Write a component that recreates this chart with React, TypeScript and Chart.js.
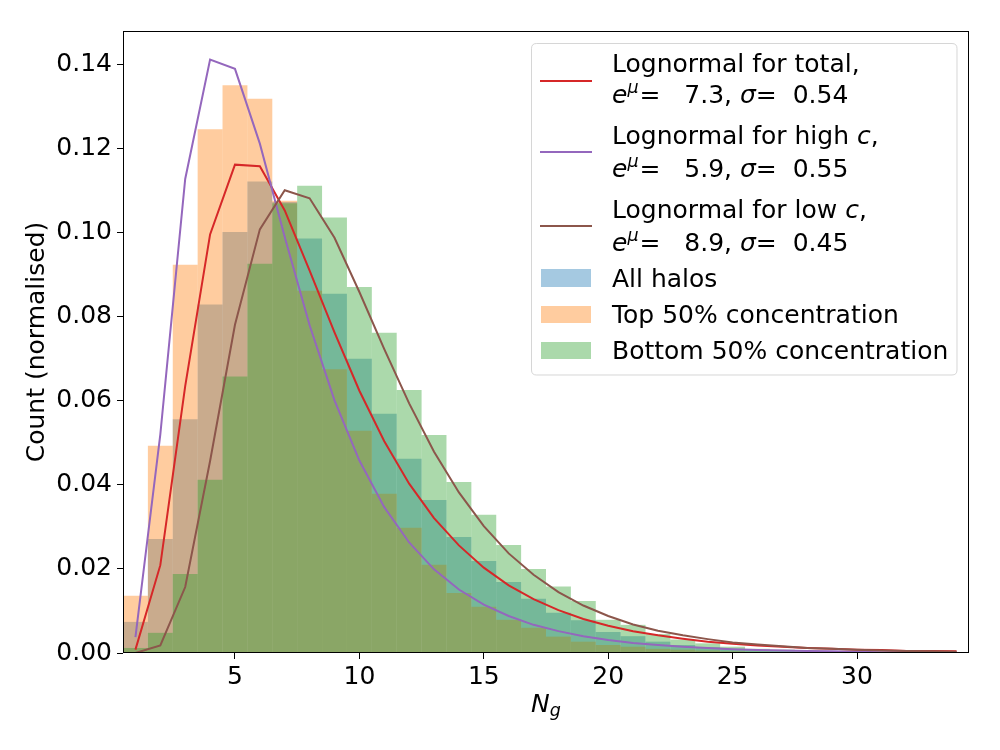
import { useEffect, useRef } from "react";
import { Chart, registerables } from "chart.js";

Chart.register(...registerables);

const FONT = "'DejaVu Sans', sans-serif";
const SIZE = 25;
const SMALL = 17.5;

// bin centres (width 1)
const bins = [
  1, 2, 3, 4, 5, 6, 7, 8, 9, 10, 11, 12, 13, 14, 15, 16, 17, 18, 19, 20, 21,
  22, 23, 24, 25, 26, 27, 28, 29, 30, 31, 32, 33, 34,
];

const allHalos = [
  0.0074, 0.0271, 0.0556, 0.0829, 0.1002, 0.1122, 0.1073, 0.0986, 0.0855,
  0.07, 0.0569, 0.0462, 0.0364, 0.0276, 0.0219, 0.0169, 0.0129, 0.0096,
  0.0078, 0.005, 0.004, 0.0027, 0.0019, 0.0014, 0.001, 0.0007, 0.0005, 0.0004,
  0.0003, 0.0002, 0.0002, 0.0001, 0.0001, 0.0001,
];

const topHalf = [
  0.0136, 0.0493, 0.0924, 0.1246, 0.1351, 0.1319, 0.1076, 0.0862, 0.0675,
  0.0529, 0.0379, 0.0298, 0.021, 0.0143, 0.011, 0.0079, 0.006, 0.0039, 0.0027,
  0.0019, 0.0015, 0.001, 0.0008, 0.0006, 0.0004, 0.0003, 0.0002, 0.0002,
  0.0001, 0.0001, 0.0001, 0.0001, 0, 0,
];

const bottomHalf = [
  0.0012, 0.0048, 0.0188, 0.0412, 0.0658, 0.0926, 0.107, 0.1112, 0.1036,
  0.0871, 0.0762, 0.0626, 0.0519, 0.0407, 0.0329, 0.0257, 0.02, 0.0158, 0.0124,
  0.0079, 0.0067, 0.0045, 0.0032, 0.0023, 0.0015, 0.001, 0.0008, 0.0006,
  0.0004, 0.0003, 0.0003, 0.0002, 0.0002, 0.0001,
];

// lognormal fits, read at integer N_g
const fitTotal = [
  0.0008, 0.0209, 0.0635, 0.0996, 0.1162, 0.1158, 0.1053, 0.091, 0.0763,
  0.0624, 0.0504, 0.0403, 0.0321, 0.0256, 0.0203, 0.0161, 0.0128, 0.0102,
  0.0081, 0.0065, 0.0052, 0.0042, 0.0034, 0.0027, 0.0022, 0.0018, 0.0015,
  0.0012, 0.001, 0.0008, 0.0007, 0.0005, 0.0005, 0.0004,
];

const fitHigh = [
  0.0038, 0.052, 0.1128, 0.1412, 0.139, 0.1212, 0.099, 0.078, 0.0601, 0.0458,
  0.0347, 0.0263, 0.0199, 0.0151, 0.0115, 0.0088, 0.0067, 0.0052, 0.004,
  0.0031, 0.0024, 0.0019, 0.0015, 0.0012, 0.0009, 0.0007, 0.0006, 0.0005,
  0.0004, 0.0003, 0.0002, 0.0002, 0.0002, 0.0001,
];

const fitLow = [
  0.0, 0.0018, 0.0157, 0.0457, 0.0781, 0.1008, 0.1101, 0.1082, 0.0988, 0.0859,
  0.0723, 0.0594, 0.0479, 0.0382, 0.0302, 0.0237, 0.0186, 0.0145, 0.0113,
  0.0088, 0.0068, 0.0053, 0.0042, 0.0033, 0.0025, 0.002, 0.0016, 0.0012, 0.001,
  0.0008, 0.0006, 0.0005, 0.0004, 0.0003,
];

const xTickValues = [5, 10, 15, 20, 25, 30];
const yTickValues = [0, 0.02, 0.04, 0.06, 0.08, 0.1, 0.12, 0.14];

const fits = [
  { name: "Lognormal for total,", median: "7.3", sigma: "0.54", color: "#d62728" },
  { name: "Lognormal for high ", median: "5.9", sigma: "0.55", color: "#9467bd", c: true },
  { name: "Lognormal for low ", median: "8.9", sigma: "0.45", color: "#8c564b", c: true },
];
const hists = [
  { name: "All halos", color: "rgba(31,119,180,0.4)" },
  { name: "Top 50% concentration", color: "rgba(255,127,14,0.4)" },
  { name: "Bottom 50% concentration", color: "rgba(44,160,44,0.4)" },
];

const points = (vals: number[]) => bins.map((b, i) => ({ x: b, y: vals[i] }));

// draws runs of normal / italic / superscript text one after another
function drawRuns(ctx: CanvasRenderingContext2D, x: number, y: number, runs: any[]) {
  let cx = x;
  for (const r of runs) {
    if (r.gap) {
      cx += r.gap;
      continue;
    }
    const size = r.small ? SMALL : SIZE;
    ctx.font = `${r.italic ? "italic " : ""}${size}px ${FONT}`;
    ctx.fillText(r.t, cx, y + (r.dy || 0));
    cx += ctx.measureText(r.t).width;
  }
}

const decorPlugin = {
  id: "decor",
  afterDatasetsDraw(chart: any) {
    const { ctx, chartArea } = chart;
    ctx.save();
    // full box around the axes
    ctx.strokeStyle = "#000";
    ctx.lineWidth = 1;
    const l = Math.round(chartArea.left) + 0.5;
    const t = Math.round(chartArea.top) + 0.5;
    const r = Math.round(chartArea.right) - 0.5;
    const b = Math.round(chartArea.bottom) - 0.5;
    ctx.strokeRect(l, t, r - l, b - t);
    ctx.restore();
  },
  afterDraw(chart: any) {
    const { ctx, chartArea } = chart;
    ctx.save();
    ctx.fillStyle = "#000";
    ctx.textBaseline = "alphabetic";

    // axis titles
    ctx.save();
    ctx.translate(37, (chartArea.top + chartArea.bottom) / 2);
    ctx.rotate(-Math.PI / 2);
    ctx.textAlign = "center";
    ctx.textBaseline = "middle";
    ctx.font = `${SIZE}px ${FONT}`;
    ctx.fillText("Count (normalised)", 0, 0);
    ctx.restore();
    ctx.textAlign = "left";
    drawRuns(ctx, 531, 712, [
      { t: "N", italic: true },
      { t: "g", italic: true, small: true, dy: 4 },
    ]);

    // legend frame
    const lx = 531.5, ly = 43.5, lw = 425.5, lh = 331.5, rad = 5;
    ctx.beginPath();
    ctx.moveTo(lx + rad, ly);
    ctx.lineTo(lx + lw - rad, ly);
    ctx.quadraticCurveTo(lx + lw, ly, lx + lw, ly + rad);
    ctx.lineTo(lx + lw, ly + lh - rad);
    ctx.quadraticCurveTo(lx + lw, ly + lh, lx + lw - rad, ly + lh);
    ctx.lineTo(lx + rad, ly + lh);
    ctx.quadraticCurveTo(lx, ly + lh, lx, ly + lh - rad);
    ctx.lineTo(lx, ly + rad);
    ctx.quadraticCurveTo(lx, ly, lx + rad, ly);
    ctx.closePath();
    ctx.fillStyle = "rgba(255,255,255,0.8)";
    ctx.fill();
    ctx.strokeStyle = "rgba(204,204,204,0.8)";
    ctx.lineWidth = 1;
    ctx.stroke();

    ctx.fillStyle = "#000";
    const lineRows = [
      [72, 81, 103],
      [144, 152, 177],
      [218, 226, 251],
    ];
    fits.forEach((f, i) => {
      const [b1, hy, b2] = lineRows[i];
      ctx.strokeStyle = f.color;
      ctx.lineWidth = 2;
      ctx.beginPath();
      ctx.moveTo(540, hy);
      ctx.lineTo(592, hy);
      ctx.stroke();
      const first: any[] = [{ t: f.name }];
      if (f.c) {
        first.push({ t: "c", italic: true });
        first.push({ t: "," });
      }
      drawRuns(ctx, 612, b1, first);
      drawRuns(ctx, 612, b2, [
        { t: "e", italic: true },
        { t: "\u03bc", italic: true, small: true, dy: -10 },
        { gap: 1 },
        { t: "=   " + f.median + ", " },
        { t: "\u03c3", italic: true },
        { t: "=  " + f.sigma },
      ]);
    });

    const patchRows = [
      [269, 287],
      [306, 323],
      [342, 359],
    ];
    hists.forEach((h, i) => {
      const [y0, y1] = patchRows[i];
      ctx.fillStyle = h.color;
      ctx.fillRect(541, y0, 50, y1 - y0);
      ctx.fillStyle = "#000";
      drawRuns(ctx, 612, y1, [{ t: h.name }]);
    });
    ctx.restore();
  },
};

export default function App() {
  const canvasRef = useRef<HTMLCanvasElement>(null);

  useEffect(() => {
    Chart.defaults.font.family = FONT;
    Chart.defaults.color = "#000";

    const barCommon = {
      type: "bar" as const,
      grouped: false,
      barPercentage: 1,
      categoryPercentage: 1,
      borderWidth: 0,
      inflateAmount: 0,
    };
    const lineCommon = {
      type: "line" as const,
      borderWidth: 2,
      pointRadius: 0,
      fill: false,
      tension: 0,
    };

    const chart = new Chart(canvasRef.current!, {
      type: "bar",
      data: {
        datasets: [
          { ...barCommon, label: hists[0].name, data: points(allHalos), backgroundColor: hists[0].color, order: 5 },
          { ...barCommon, label: hists[1].name, data: points(topHalf), backgroundColor: hists[1].color, order: 4 },
          { ...barCommon, label: hists[2].name, data: points(bottomHalf), backgroundColor: hists[2].color, order: 3 },
          { ...lineCommon, label: fits[0].name, data: points(fitTotal), borderColor: fits[0].color, order: 2 },
          { ...lineCommon, label: fits[1].name, data: points(fitHigh), borderColor: fits[1].color, order: 1 },
          { ...lineCommon, label: fits[2].name, data: points(fitLow), borderColor: fits[2].color, order: 0 },
        ] as any,
      },
      options: {
        animation: false,
        responsive: true,
        maintainAspectRatio: false,
        layout: { padding: { left: 0, top: 31, right: 31, bottom: 0 } },
        plugins: { legend: { display: false }, tooltip: { enabled: false } },
        scales: {
          x: {
            type: "linear",
            min: 0.5,
            max: 34.5,
            offset: false,
            grid: { offset: false, drawOnChartArea: false, tickLength: 6, tickColor: "#000" },
            border: { display: false },
            ticks: {
              font: { size: SIZE },
              color: "#000",
              padding: 3,
              maxRotation: 0,
              autoSkip: false,
              callback: (v: any) => String(v),
            },
            afterBuildTicks: (s: any) => {
              s.ticks = xTickValues.map((v) => ({ value: v }));
            },
            afterFit: (s: any) => {
              s.height = 97;
            },
          },
          y: {
            type: "linear",
            min: 0,
            max: 0.148,
            grid: { drawOnChartArea: false, tickLength: 6, tickColor: "#000" },
            border: { display: false },
            ticks: {
              font: { size: SIZE },
              color: "#000",
              padding: 5,
              autoSkip: false,
              callback: (v: any) => Number(v).toFixed(2),
            },
            afterBuildTicks: (s: any) => {
              s.ticks = yTickValues.map((v) => ({ value: v }));
            },
            afterFit: (s: any) => {
              s.width = 123;
            },
          },
        },
      },
      plugins: [decorPlugin],
    });

    return () => chart.destroy();
  }, []);

  return (
    <div style={{ position: "absolute", left: 0, top: 0, width: 1000, height: 750, background: "#fff" }}>
      <canvas ref={canvasRef}></canvas>
    </div>
  );
}
